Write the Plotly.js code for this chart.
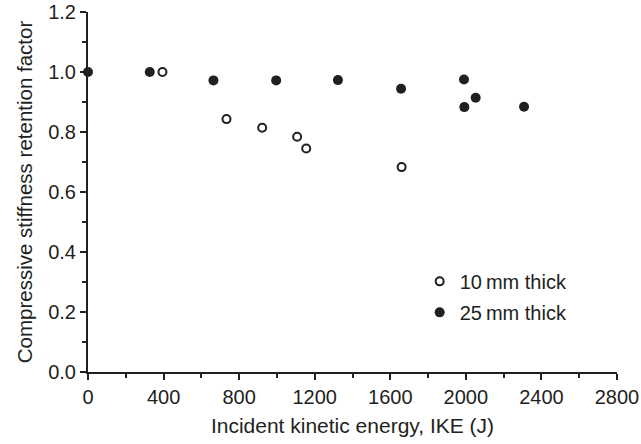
<!DOCTYPE html>
<html>
<head>
<meta charset="utf-8">
<script src="https://cdn.plot.ly/plotly-3.0.1.min.js"></script>
<style>html,body{margin:0;padding:0;background:#fff;}#chart{width:641px;height:444px;}</style>
</head>
<body>
<div id="chart"></div>
<script>
const series10Name = "10\u2009mm thick";
const series10X = [394, 733, 922, 1107, 1155, 1660];
const series10Y = [1.0, 0.843, 0.814, 0.784, 0.745, 0.683];

const series25Name = "25\u2009mm thick";
const series25X = [0, 327, 664, 996, 1323, 1657, 1990, 1992, 2052, 2308];
const series25Y = [1.0, 1.0, 0.972, 0.972, 0.973, 0.944, 0.975, 0.883, 0.914, 0.884];

const xTicks = [0, 400, 800, 1200, 1600, 2000, 2400, 2800];
const yTicks = [0.0, 0.2, 0.4, 0.6, 0.8, 1.0, 1.2];

const font = "Liberation Sans, Arial, Helvetica, sans-serif";
const ink = "#231f20";

const traces = [
  {
    x: series10X, y: series10Y, name: series10Name, type: "scatter", mode: "markers",
    legendgroup: "a", cliponaxis: false,
    marker: {symbol: "circle-open", size: 8, color: ink, line: {width: 2, color: ink}}
  },
  {
    x: series25X, y: series25Y, name: series25Name, type: "scatter", mode: "markers",
    legendgroup: "b", cliponaxis: false,
    marker: {symbol: "circle", size: 10, color: ink}
  }
];

const axisCommon = {
  showgrid: false, zeroline: false, showline: true, linecolor: ink, linewidth: 2,
  ticks: "outside", ticklen: 6, tickwidth: 2, tickcolor: ink,
  ticklabeloverflow: "allow",
  tickfont: {family: font, size: 20, color: ink}
};

const layout = {
  width: 641, height: 444,
  margin: {l: 88, r: 24, t: 12, b: 72},
  paper_bgcolor: "#fff", plot_bgcolor: "#fff",
  font: {family: font, color: ink},
  showlegend: true,
  legend: {
    x: 0.627, y: 0.306, xanchor: "left", yanchor: "top",
    font: {family: font, size: 20, color: ink},
    traceorder: "grouped", tracegroupgap: 2,
    bgcolor: "rgba(0,0,0,0)", itemwidth: 30
  },
  xaxis: Object.assign({}, axisCommon, {
    range: [0, 2800], tickvals: xTicks, ticktext: xTicks.map(String),
    minor: {dtick: 200, tick0: 0, ticks: "outside", ticklen: 4, tickwidth: 2, tickcolor: ink},
    title: {text: "Incident kinetic energy, IKE (J)", font: {family: font, size: 21, color: ink}, standoff: 11}
  }),
  yaxis: Object.assign({}, axisCommon, {
    range: [0, 1.2], tickvals: yTicks, ticktext: yTicks.map(v => v.toFixed(1)),
    minor: {dtick: 0.1, tick0: 0, ticks: "outside", ticklen: 4, tickwidth: 2, tickcolor: ink},
    title: {text: "Compressive stiffness retention factor", font: {family: font, size: 20.5, color: ink}, standoff: 10}
  })
};

Plotly.newPlot("chart", traces, layout, {displayModeBar: false, staticPlot: true});
</script>
</body>
</html>
